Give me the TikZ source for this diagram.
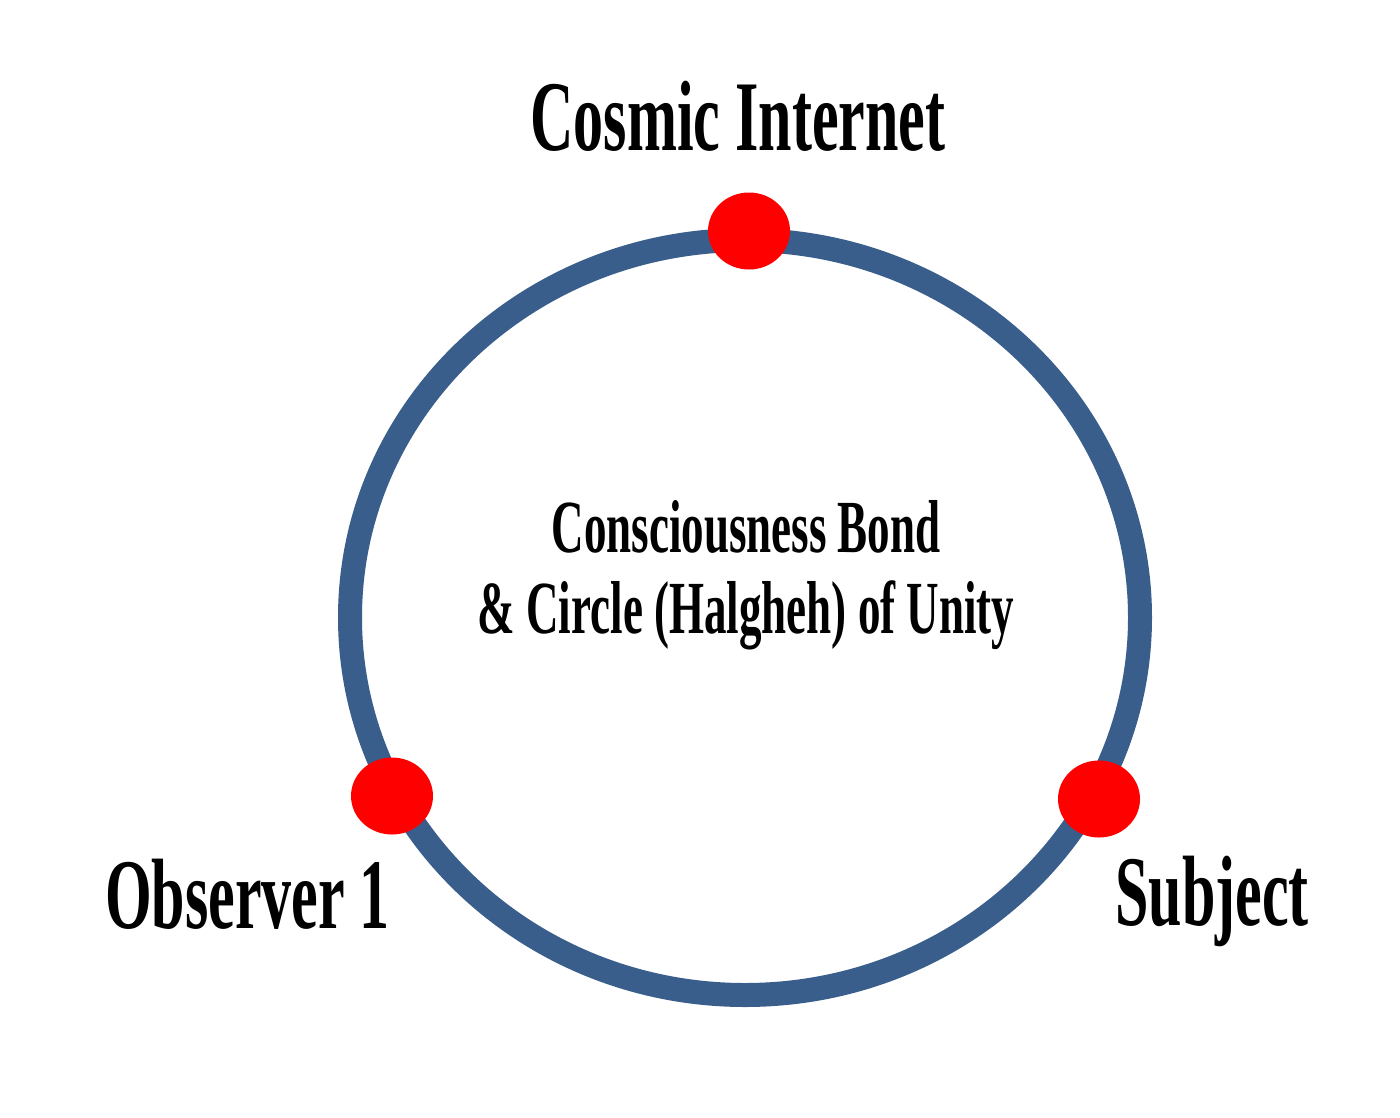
\documentclass[tikz,border=0pt]{standalone}
\usepackage{fontspec}
\usetikzlibrary{shapes.geometric}
\newfontfamily\lblfont[FakeStretch=0.6]{Liberation Serif}
\definecolor{ringblue}{HTML}{3A5E8C}
\definecolor{dotred}{HTML}{FF0000}
\begin{document}
\begin{tikzpicture}[x=1pt,y=-1pt,
  ring/.style={draw=ringblue,line width=24pt},
  dot/.style={ellipse,fill=dotred,draw=none,inner sep=0pt,minimum width=82pt,minimum height=77pt},
  biglabel/.style={anchor=base,inner sep=0pt,font=\lblfont\bfseries\fontsize{100}{110}\selectfont},
  midlabel/.style={anchor=base,inner sep=0pt,align=center,font=\lblfont\bfseries\fontsize{75}{81}\selectfont}]
\useasboundingbox[fill=white] (0,0) rectangle (1400,1117);
\draw[ring] (745,617.5) ellipse [x radius=395, y radius=377.5];
\node[dot] (cosmicdot) at (749,231) {};
\node[dot] (obsdot) at (392,796) {};
\node[dot] (subjdot) at (1099,799) {};
\node[biglabel] (cosmic) at (738,150) {Cosmic Internet};
\node[biglabel] (observer) at (247.5,928) {Observer 1};
\node[biglabel] (subject) at (1212,925) {Subject};
\node[midlabel] (bond) at (746,633) {Consciousness Bond\\\& Circle (Halgheh) of Unity};
\end{tikzpicture}
\end{document}
